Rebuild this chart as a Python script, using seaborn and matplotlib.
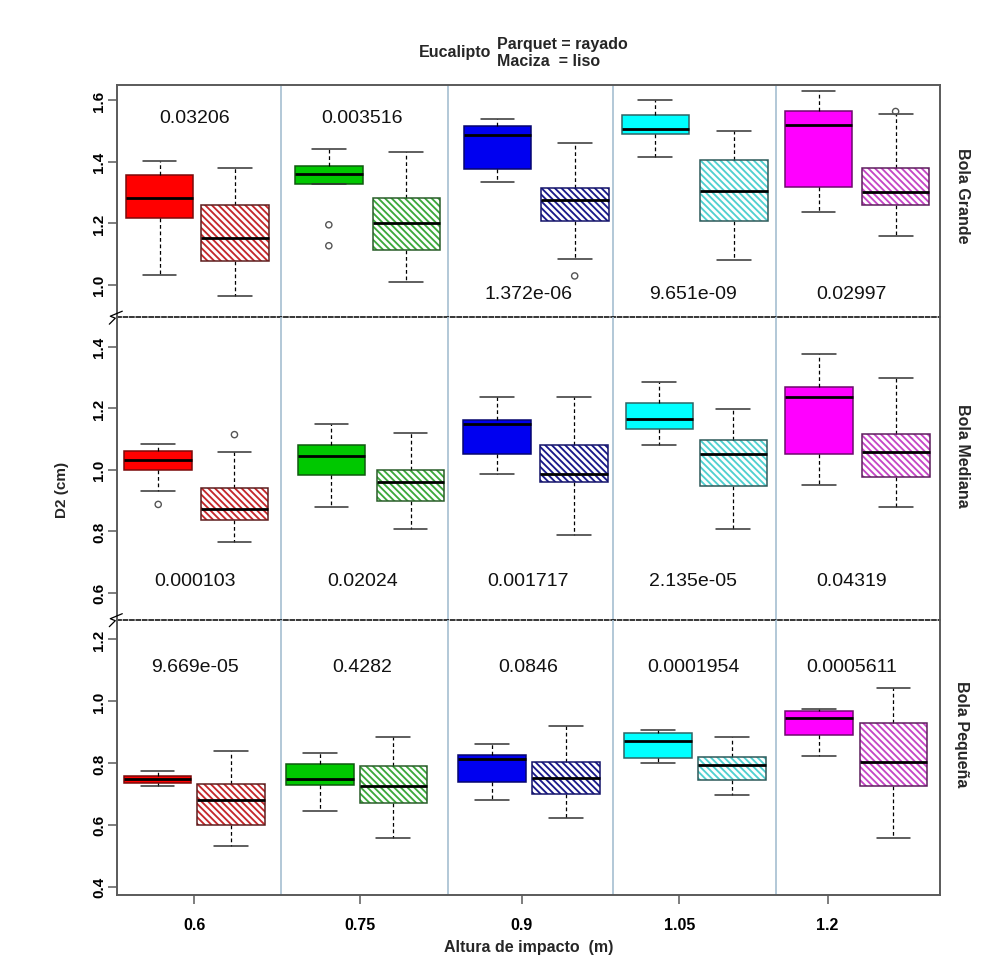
import numpy as np
import pandas as pd
import matplotlib
matplotlib.use("Agg")
import matplotlib.pyplot as plt
from matplotlib.patches import PathPatch
from matplotlib.lines import Line2D
import seaborn as sns

# ---------------- data ----------------
heights = ["0.6", "0.75", "0.9", "1.05", "1.2"]
floor_types = ["Maciza", "Parquet"]          # liso / rayado
ball_sizes = ["Bola Grande", "Bola Mediana", "Bola Pequeña"]

# five-number summaries, order: (0.6 Maciza, 0.6 Parquet, 0.75 Maciza, ...)
grande_lo  = [1.031, 0.963, 1.328, 1.008, 1.334, 1.083, 1.415, 1.080, 1.238, 1.159]
grande_q1  = [1.216, 1.077, 1.328, 1.113, 1.375, 1.206, 1.490, 1.206, 1.318, 1.259]
grande_med = [1.281, 1.151, 1.359, 1.200, 1.488, 1.277, 1.506, 1.306, 1.519, 1.302]
grande_q3  = [1.357, 1.260, 1.386, 1.282, 1.516, 1.314, 1.553, 1.407, 1.566, 1.378]
grande_hi  = [1.402, 1.378, 1.441, 1.432, 1.537, 1.461, 1.600, 1.500, 1.630, 1.555]

mediana_lo  = [0.930, 0.765, 0.880, 0.808, 0.987, 0.788, 1.080, 0.808, 0.951, 0.878]
mediana_q1  = [1.000, 0.835, 0.984, 0.897, 1.050, 0.960, 1.133, 0.947, 1.050, 0.977]
mediana_med = [1.032, 0.873, 1.045, 0.959, 1.147, 0.985, 1.164, 1.051, 1.236, 1.058]
mediana_q3  = [1.062, 0.939, 1.079, 0.999, 1.162, 1.079, 1.218, 1.098, 1.270, 1.116]
mediana_hi  = [1.082, 1.056, 1.149, 1.119, 1.235, 1.238, 1.286, 1.196, 1.375, 1.299]

pequena_lo  = [0.724, 0.533, 0.645, 0.558, 0.681, 0.621, 0.800, 0.695, 0.821, 0.558]
pequena_q1  = [0.735, 0.599, 0.729, 0.672, 0.737, 0.701, 0.817, 0.745, 0.890, 0.725]
pequena_med = [0.747, 0.680, 0.747, 0.724, 0.814, 0.751, 0.872, 0.792, 0.945, 0.802]
pequena_q3  = [0.758, 0.731, 0.797, 0.790, 0.827, 0.802, 0.896, 0.819, 0.969, 0.929]
pequena_hi  = [0.774, 0.840, 0.833, 0.884, 0.860, 0.919, 0.907, 0.884, 0.976, 1.041]

# outlying observations: (box index, value)
grande_out = [(2, 1.195), (2, 1.127), (5, 1.029), (9, 1.563)]
mediana_out = [(0, 0.887), (1, 1.114)]
pequena_out = []

# test p-values per impact height
grande_p = ["0.03206", "0.003516", "1.372e-06", "9.651e-09", "0.02997"]
mediana_p = ["0.000103", "0.02024", "0.001717", "2.135e-05", "0.04319"]
pequena_p = ["9.669e-05", "0.4282", "0.0846", "0.0001954", "0.0005611"]

panels = [
    dict(name=ball_sizes[0], lo=grande_lo, q1=grande_q1, med=grande_med, q3=grande_q3,
         hi=grande_hi, out=grande_out, p=grande_p),
    dict(name=ball_sizes[1], lo=mediana_lo, q1=mediana_q1, med=mediana_med, q3=mediana_q3,
         hi=mediana_hi, out=mediana_out, p=mediana_p),
    dict(name=ball_sizes[2], lo=pequena_lo, q1=pequena_q1, med=pequena_med, q3=pequena_q3,
         hi=pequena_hi, out=pequena_out, p=pequena_p),
]

# ---------------- layout ----------------
box_pos = [
    [0.256, 0.715, 1.282, 1.752, 2.304, 2.772, 3.261, 3.737, 4.250, 4.717],
    [0.248, 0.710, 1.298, 1.777, 2.300, 2.767, 3.285, 3.734, 4.253, 4.720],
    [0.244, 0.689, 1.229, 1.673, 2.271, 2.721, 3.276, 3.725, 4.253, 4.704],
]
BOX_W = 0.41
sep_pos = [0.99, 2.005, 3.005, 3.99]
tick_pos = [0.467, 1.473, 2.451, 3.407, 4.305]
text_x = [0.47, 1.485, 2.49, 3.49, 4.45]
text_y = [[1.545, 1.545, 0.972, 0.972, 0.972],
          [0.640] * 5,
          [1.112] * 5]
ylims = [(0.895, 1.649), (0.512, 1.496), (0.375, 1.263)]
yticks = [[1.0, 1.2, 1.4, 1.6], [0.6, 0.8, 1.0, 1.2, 1.4], [0.4, 0.6, 0.8, 1.0, 1.2]]
label_y_px = [196, 456, 734]

solid_fill = ["#FF0000", "#00C800", "#0000F0", "#00FFFF", "#FF00FF"]
solid_edge = ["#7A0A0A", "#0F5A0F", "#06066E", "#2E6464", "#6E0A6E"]
hatch_col = ["#C4282C", "#3CA83C", "#1A1A8A", "#50D0D0", "#C646C6"]
hatch_edge = ["#5E1E1E", "#2A5E2A", "#14146A", "#2E5A5A", "#5E1E5E"]
HATCH = "\\" * 5
FRAME = "#5A5A5A"

sns.set_theme(style="white")
plt.rcParams["font.family"] = ["Liberation Sans", "DejaVu Sans"]
plt.rcParams["hatch.linewidth"] = 1.35

W, H = 994, 970
fig = plt.figure(figsize=(W / 100, H / 100), dpi=100)
fig.patch.set_facecolor("white")


def fx(px):
    return px / W


def fy(py):
    return 1 - py / H


left_px, right_px = 117.3, 940.0
bounds = [86.0, 318.2, 620.7, 895.5]

axes = []
for i, pnl in enumerate(panels):
    top_px, bot_px = bounds[i], bounds[i + 1]
    ax = fig.add_axes([fx(left_px), fy(bot_px), (right_px - left_px) / W, (bot_px - top_px) / H])
    ax.patch.set_visible(False)
    axes.append(ax)
    pos = box_pos[i]

    rows = []
    for k in range(len(pos)):
        for v in (pnl["lo"][k], pnl["q1"][k], pnl["med"][k], pnl["q3"][k], pnl["hi"][k]):
            rows.append({"pos": pos[k], "D2": v})
    df = pd.DataFrame(rows)
    min_gap = np.min(np.diff(np.sort(pos)))

    sns.boxplot(
        data=df, x="pos", y="D2", native_scale=True, width=BOX_W / min_gap,
        whis=(0, 100), showfliers=False, color="white", linecolor="black",
        linewidth=1.1, ax=ax,
        medianprops=dict(color="black", linewidth=2.0),
        whiskerprops=dict(color="black", linewidth=0.9, linestyle=(0, (3, 2.2))),
        capprops=dict(color="#333333", linewidth=1.1),
    )

    # colour the boxes: plain fill for Maciza, diagonal hatch for Parquet
    for patch in list(ax.patches):
        verts = patch.get_path().vertices
        xc = (verts[:, 0].min() + verts[:, 0].max()) / 2
        k = int(np.argmin(np.abs(np.array(pos) - xc)))
        g, t = divmod(k, 2)
        if t == 0:
            patch.set_facecolor(solid_fill[g])
            patch.set_edgecolor(solid_edge[g])
            patch.set_linewidth(1.1)
        else:
            patch.set_facecolor("white")
            patch.set_hatch(HATCH)
            if hasattr(patch, "set_hatchcolor"):
                patch.set_hatchcolor(hatch_col[g])
                patch.set_edgecolor(hatch_edge[g])
                patch.set_linewidth(1.1)
            else:
                patch.set_edgecolor(hatch_col[g])
                patch.set_linewidth(0)
                ax.add_patch(PathPatch(patch.get_path(), transform=patch.get_transform(),
                                       fill=False, edgecolor=hatch_edge[g], linewidth=1.1,
                                       zorder=patch.get_zorder() + 0.01))

    if pnl["out"]:
        ox = [pos[k] for k, _ in pnl["out"]]
        oy = [v for _, v in pnl["out"]]
        sns.scatterplot(x=ox, y=oy, ax=ax, marker="o", s=20, facecolors="none",
                        edgecolor="#555555", linewidth=1.0, legend=False, zorder=4)

    for xs in sep_pos:
        ax.axvline(xs, color="#A6BFD1", lw=1.2, zorder=0.5)

    for g in range(5):
        ax.text(text_x[g], text_y[i][g], pnl["p"][g], ha="center", va="center",
                fontsize=14, color="#111111")

    ax.set_xlim(0, (right_px - left_px) / 165.0)
    ax.set_ylim(*ylims[i])
    ax.set_xlabel("")
    ax.set_ylabel("")
    ax.set_yticks(yticks[i])
    ax.set_yticklabels([f"{v:.1f}" for v in yticks[i]], rotation=90, va="center",
                       fontweight="bold", fontsize=11)
    ax.tick_params(axis="y", left=True, direction="out", length=6.5, width=1.1,
                   color=FRAME, pad=1.5, labelcolor="black")

    for side in ("left", "right"):
        ax.spines[side].set_color(FRAME)
        ax.spines[side].set_linewidth(1.4)
    ax.spines["top"].set_visible(i == 0)
    ax.spines["top"].set_color(FRAME)
    ax.spines["top"].set_linewidth(1.4)
    if i < 2:
        ax.spines["bottom"].set_color("black")
        ax.spines["bottom"].set_linewidth(1.1)
        ax.spines["bottom"].set_linestyle((0, (2.7, 1.5)))
        ax.spines["bottom"].set_zorder(5)
        ax.tick_params(axis="x", bottom=False, labelbottom=False)
    else:
        ax.spines["bottom"].set_color(FRAME)
        ax.spines["bottom"].set_linewidth(1.4)
        ax.set_xticks(tick_pos)
        ax.set_xticklabels(heights, fontweight="bold", fontsize=11.5)
        ax.tick_params(axis="x", bottom=True, direction="out", length=6.5, width=1.1,
                       color=FRAME, pad=9.5, labelcolor="black")

    fig.text(fx(962), fy(label_y_px[i]), pnl["name"], rotation=-90, ha="center",
             va="center", fontsize=11.5, fontweight="bold")

# zigzag axis-break marks where panels meet
for yb in bounds[1:3]:
    zx = [left_px - 8, left_px - 2, left_px - 7, left_px + 5]
    zy = [yb + 7, yb + 1, yb - 1, yb - 6]
    fig.add_artist(Line2D([fx(v) for v in zx], [fy(v) for v in zy], color="black", lw=0.9))

fig.text(fx(62), fy(490), "D2 (cm)", rotation=90, ha="center", va="center",
         fontsize=11, fontweight="bold")
fig.text(fx(529), fy(948), "Altura de impacto  (m)", ha="center", va="center",
         fontsize=11.5, fontweight="bold")
fig.text(fx(455), fy(53), "Eucalipto", ha="center", va="center", fontsize=11.5,
         fontweight="bold")
fig.text(fx(497), fy(44), "Parquet = rayado", ha="left", va="center", fontsize=11.5,
         fontweight="bold")
fig.text(fx(497), fy(61), "Maciza  = liso", ha="left", va="center", fontsize=11.5,
         fontweight="bold")

fig.savefig("out.png", dpi=100, facecolor="white")
